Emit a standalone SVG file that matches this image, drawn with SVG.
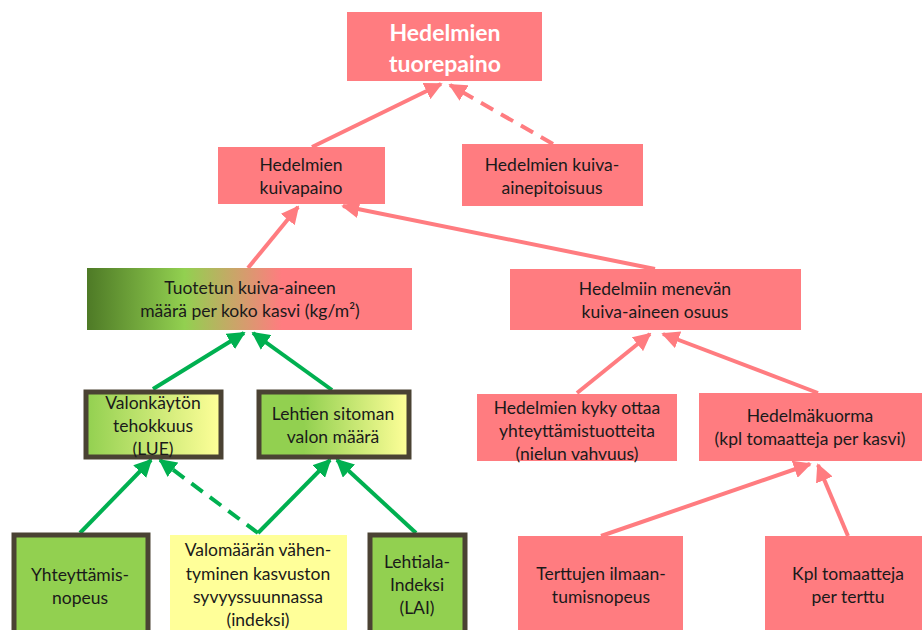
<svg xmlns="http://www.w3.org/2000/svg" width="922" height="630" viewBox="0 0 922 630">
<style>
.pk{fill:#FF7C80}
.t{font-family:Lato,"Open Sans","Liberation Sans",sans-serif;font-size:17.5px;fill:#1a1a1a;text-anchor:middle}
.tw{font-family:Lato,"Open Sans","Liberation Sans",sans-serif;font-size:23px;font-weight:bold;fill:#ffffff;text-anchor:middle}
.bd{stroke:#4A4233;stroke-width:5}
.lp{stroke:#FF7C80;stroke-width:4;fill:none}
.lg{stroke:#00B050;stroke-width:4;fill:none}
.dash{stroke-dasharray:14 9}
</style>
<defs>
<linearGradient id="g1" x1="0" y1="0" x2="1" y2="0">
<stop offset="0" stop-color="#4E7A26"/>
<stop offset="0.3" stop-color="#92D050"/>
<stop offset="0.6" stop-color="#FF7C80"/>
<stop offset="1" stop-color="#FF7C80"/>
</linearGradient>
<linearGradient id="g2" x1="0" y1="0" x2="1" y2="0">
<stop offset="0" stop-color="#92D050"/>
<stop offset="1" stop-color="#FFFF99"/>
</linearGradient>
<linearGradient id="g3" x1="0" y1="0" x2="1" y2="0">
<stop offset="0" stop-color="#92D050"/>
<stop offset="0.3" stop-color="#92D050"/>
<stop offset="1" stop-color="#FFFF99"/>
</linearGradient>
<marker id="ap" viewBox="0 0 10 10" refX="9" refY="5" markerWidth="4.5" markerHeight="4.5" orient="auto" markerUnits="strokeWidth"><path d="M0,0 L10,5 L0,10 z" fill="#FF7C80"/></marker>
<marker id="ag" viewBox="0 0 10 10" refX="9" refY="5" markerWidth="4.5" markerHeight="4.5" orient="auto" markerUnits="strokeWidth"><path d="M0,0 L10,5 L0,10 z" fill="#00B050"/></marker>
</defs>
<g id="connectors">
<line class="lp" x1="312" y1="147" x2="441" y2="84" marker-end="url(#ap)"/>
<line class="lp dash" x1="553" y1="144" x2="450" y2="85" marker-end="url(#ap)"/>
<line class="lp" x1="248" y1="268" x2="298" y2="207" marker-end="url(#ap)"/>
<line class="lp" x1="655" y1="269" x2="343" y2="206" marker-end="url(#ap)"/>
<line class="lp" x1="577" y1="393" x2="650" y2="334" marker-end="url(#ap)"/>
<line class="lp" x1="818" y1="393" x2="663" y2="334" marker-end="url(#ap)"/>
<line class="lp" x1="601" y1="536" x2="810" y2="464" marker-end="url(#ap)"/>
<line class="lp" x1="848" y1="536" x2="818" y2="465" marker-end="url(#ap)"/>
<line class="lg" x1="153" y1="389" x2="244" y2="333" marker-end="url(#ag)"/>
<line class="lg" x1="332" y1="390" x2="253" y2="333" marker-end="url(#ag)"/>
<line class="lg" x1="80" y1="533" x2="151" y2="460" marker-end="url(#ag)"/>
<line class="lg dash" x1="258" y1="533" x2="160" y2="460" marker-end="url(#ag)"/>
<line class="lg" x1="258" y1="533" x2="330" y2="460" marker-end="url(#ag)"/>
<line class="lg" x1="416" y1="533" x2="337" y2="460" marker-end="url(#ag)"/>
</g>
<g id="n-tuorepaino">
<rect class="pk" x="347" y="12" width="195" height="69"/>
<text class="tw" x="445" y="41">Hedelmien</text>
<text class="tw" x="445" y="72">tuorepaino</text>
</g>
<g id="n-kuivapaino">
<rect class="pk" x="218" y="147" width="167" height="57"/>
<text class="t" x="301" y="171">Hedelmien</text>
<text class="t" x="301" y="194">kuivapaino</text>
</g>
<g id="n-kuiva-ainepitoisuus">
<rect class="pk" x="462" y="144" width="181" height="62"/>
<text class="t" x="552" y="171">Hedelmien kuiva-</text>
<text class="t" x="552" y="194">ainepitoisuus</text>
</g>
<g id="n-tuotetun">
<rect x="87" y="268" width="325" height="62" fill="url(#g1)"/>
<text class="t" x="250" y="294">Tuotetun kuiva-aineen</text>
<text class="t" x="250" y="317">määrä per koko kasvi (kg/m²)</text>
</g>
<g id="n-hedelmiin">
<rect class="pk" x="510" y="269" width="291" height="61"/>
<text class="t" x="655" y="295">Hedelmiin menevän</text>
<text class="t" x="655" y="318">kuiva-aineen osuus</text>
</g>
<g id="n-valonkaytto">
<rect class="bd" x="86" y="392" width="135" height="65" fill="url(#g2)"/>
<text class="t" x="153" y="409">Valonkäytön</text>
<text class="t" x="153" y="432">tehokkuus</text>
<text class="t" x="153" y="455">(LUE)</text>
</g>
<g id="n-lehtien">
<rect class="bd" x="259" y="392" width="150" height="65" fill="url(#g3)"/>
<text class="t" x="333" y="420">Lehtien sitoman</text>
<text class="t" x="333" y="443">valon määrä</text>
</g>
<g id="n-yhteyttamis">
<rect class="bd" x="14" y="535" width="134" height="100" fill="#92D050"/>
<text class="t" x="80" y="581">Yhteyttämis-</text>
<text class="t" x="80" y="604">nopeus</text>
</g>
<g id="n-valomaaran">
<rect x="170" y="535" width="177" height="95" fill="#FFFF99"/>
<text class="t" x="258" y="556">Valomäärän vähen-</text>
<text class="t" x="258" y="580">tyminen kasvuston</text>
<text class="t" x="258" y="603">syvyyssuunnassa</text>
<text class="t" x="258" y="626">(indeksi)</text>
</g>
<g id="n-lehtiala">
<rect class="bd" x="370" y="535" width="95" height="100" fill="#92D050"/>
<text class="t" x="417" y="568">Lehtiala-</text>
<text class="t" x="417" y="591">Indeksi</text>
<text class="t" x="417" y="614">(LAI)</text>
</g>
<g id="n-kyky">
<rect class="pk" x="477" y="394" width="200" height="67"/>
<text class="t" x="577" y="414">Hedelmien kyky ottaa</text>
<text class="t" x="577" y="437">yhteyttämistuotteita</text>
<text class="t" x="577" y="460">(nielun vahvuus)</text>
</g>
<g id="n-hedelmakuorma">
<rect class="pk" x="699" y="393" width="223" height="68"/>
<text class="t" x="810" y="422">Hedelmäkuorma</text>
<text class="t" x="810" y="445">(kpl tomaatteja per kasvi)</text>
</g>
<g id="n-terttujen">
<rect class="pk" x="518" y="536" width="165" height="94"/>
<text class="t" x="601" y="580">Terttujen ilmaan-</text>
<text class="t" x="601" y="603">tumisnopeus</text>
</g>
<g id="n-kpl">
<rect class="pk" x="765" y="536" width="157" height="94"/>
<text class="t" x="848" y="580">Kpl tomaatteja</text>
<text class="t" x="848" y="603">per terttu</text>
</g>
</svg>
